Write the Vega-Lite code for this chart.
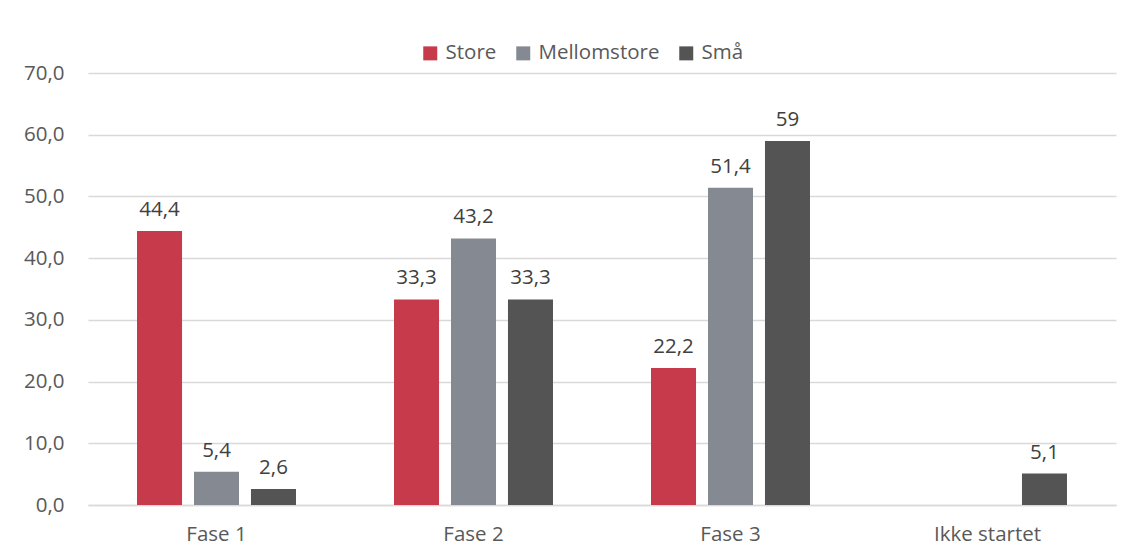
{
  "$schema": "https://vega.github.io/schema/vega-lite/v6.json",
  "width": 1028,
  "height": 432,
  "autosize": {"type": "none"},
  "padding": {"left": 88, "top": 73, "right": 14, "bottom": 38},
  "background": "white",
  "config": {
    "view": {"stroke": null},
    "font": "Open Sans",
    "locale": {"number": {"decimal": ",", "thousands": ".", "grouping": [3], "currency": ["", " kr"]}}
  },
  "data": {
    "values": [
      {"fase": "Fase 1", "gruppe": "Store", "verdi": 44.4},
      {"fase": "Fase 1", "gruppe": "Mellomstore", "verdi": 5.4},
      {"fase": "Fase 1", "gruppe": "Små", "verdi": 2.6},
      {"fase": "Fase 2", "gruppe": "Store", "verdi": 33.3},
      {"fase": "Fase 2", "gruppe": "Mellomstore", "verdi": 43.2},
      {"fase": "Fase 2", "gruppe": "Små", "verdi": 33.3},
      {"fase": "Fase 3", "gruppe": "Store", "verdi": 22.2},
      {"fase": "Fase 3", "gruppe": "Mellomstore", "verdi": 51.4},
      {"fase": "Fase 3", "gruppe": "Små", "verdi": 59},
      {"fase": "Ikke startet", "gruppe": "Små", "verdi": 5.1}
    ]
  },
  "encoding": {
    "x": {
      "field": "fase", "type": "nominal",
      "sort": ["Fase 1", "Fase 2", "Fase 3", "Ikke startet"],
      "scale": {"paddingInner": 0, "paddingOuter": 0},
      "axis": {"title": null, "labelAngle": 0, "labelFontSize": 20.5, "labelColor": "#595959", "labelPadding": 19, "ticks": false, "domainColor": "#D9D9D9", "domainWidth": 1.5}
    },
    "xOffset": {
      "field": "gruppe", "type": "nominal",
      "sort": ["Store", "Mellomstore", "Små"],
      "scale": {"domain": ["Store", "Mellomstore", "Små"], "paddingInner": 0.21, "paddingOuter": 0.86}
    },
    "y": {
      "field": "verdi", "type": "quantitative",
      "scale": {"domain": [0, 70], "nice": false},
      "axis": {"title": null, "values": [0, 10, 20, 30, 40, 50, 60, 70], "format": ".1f", "labelFontSize": 20.5, "labelColor": "#595959", "labelPadding": 24, "ticks": false, "domain": false, "gridColor": "#D9D9D9", "gridWidth": 1.5}
    }
  },
  "layer": [
    {
      "mark": {"type": "bar"},
      "encoding": {
        "color": {
          "field": "gruppe", "type": "nominal",
          "scale": {"domain": ["Store", "Mellomstore", "Små"], "range": ["#C63A4B", "#858991", "#545454"]},
          "legend": {
            "title": null, "orient": "none", "direction": "horizontal",
            "legendX": 332, "legendY": -30,
            "symbolType": "square", "symbolSize": 196, "symbolStrokeWidth": 0,
            "labelFontSize": 20.5, "labelColor": "#595959", "labelOffset": 5, "columnPadding": 16
          }
        }
      }
    },
    {
      "mark": {"type": "text", "baseline": "alphabetic", "dy": -15, "fontSize": 20.5, "color": "#404040"},
      "encoding": {
        "text": {"field": "verdi", "type": "quantitative", "format": "~g"}
      }
    }
  ]
}
